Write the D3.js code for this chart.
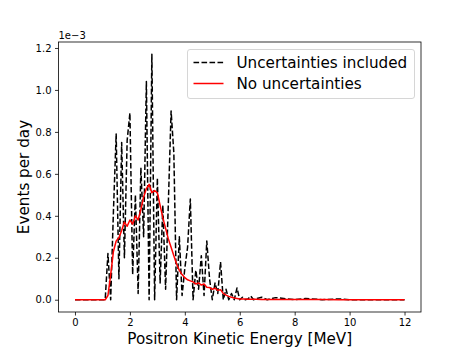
<!DOCTYPE html>
<html>
<head>
<meta charset="utf-8">
<script src="https://cdn.jsdelivr.net/npm/d3@7"></script>
<style>
  body { margin: 0; background: #fff; }
  svg { display: block; font-family: "DejaVu Sans", sans-serif; }
</style>
</head>
<body>
<div class="chart"></div>
<script>
// positron kinetic energy bins [MeV]
const energies = [0,
  1.1, 1.2, 1.3, 1.4, 1.5, 1.6, 1.7, 1.8, 1.9, 2.0,
  2.1, 2.2, 2.3, 2.4, 2.5, 2.6, 2.7, 2.8, 2.9, 3.0,
  3.1, 3.2, 3.3, 3.4, 3.5, 3.6, 3.7, 3.8, 3.9, 4.0,
  4.1, 4.2, 4.3, 4.4, 4.5, 4.6, 4.7, 4.8, 4.9, 5.0,
  5.1, 5.2, 5.3, 5.4, 5.5, 5.6, 5.7, 5.8, 5.9, 6.0,
  6.1, 6.2, 6.3, 6.4, 6.5, 6.6,
  6.8, 7.0, 7.3, 7.6, 8.0, 8.4, 9.0, 9.6, 10.0, 11.0, 12.0];

// events per day, in units of 1e-3
const withUncert = [0,
  0, 0.22, 0.00, 0.42, 0.79, 0.10, 0.75, 0.20, 0.76, 0.89,
  0.12, 0.50, 0.03, 0.63, 0.30, 1.04, 0.00, 1.17, 0.00, 0.58,
  0.08, 0.45, 0.05, 0.46, 0.90, 0.70, 0.00, 0.30, 0.02, 0.15,
  0.25, 0.48, 0.00, 0.14, 0.05, 0.21, 0.02, 0.28, 0.10, 0.00,
  0.08, 0.03, 0.18, 0.00, 0.05, 0.00, 0.03, 0.00, 0.056, 0.00,
  0.012, 0.00, 0.004, 0.018, 0.00, 0.005,
  0.012, 0.0, 0.01, 0.006, 0, 0.006, 0, 0.004, 0, 0, 0];

const noUncert = [0,
  0, 0.02, 0.12, 0.23, 0.28, 0.295, 0.33, 0.37, 0.35, 0.38,
  0.36, 0.40, 0.38, 0.43, 0.49, 0.53, 0.55, 0.51, 0.52, 0.51,
  0.45, 0.39, 0.34, 0.29, 0.25, 0.21, 0.17, 0.14, 0.12, 0.105,
  0.095, 0.09, 0.085, 0.075, 0.08, 0.07, 0.075, 0.06, 0.058, 0.05,
  0.055, 0.045, 0.048, 0.03, 0.022, 0.016, 0.012, 0.008, 0.006, 0.004,
  0.003, 0.003, 0.002, 0.002, 0.002, 0.002,
  0.0015, 0.0015, 0.001, 0.001, 0.001, 0.0008, 0.0005, 0.0004, 0.0003, 0.0002, 0];

const xTicks = [0, 2, 4, 6, 8, 10, 12];
const yTicks = [0, 0.2, 0.4, 0.6, 0.8, 1.0, 1.2];
const seriesNames = ["Uncertainties included", "No uncertainties"];

if (withUncert.length !== energies.length || noUncert.length !== energies.length) {
  throw new Error("length mismatch " + energies.length + " " + withUncert.length + " " + noUncert.length);
}

const width = 469, height = 351;
const plotLeft = 58.5, plotRight = 421, plotTop = 42, plotBottom = 312;

const svg = d3.select('.chart')
  .append('svg')
  .attr('width', width)
  .attr('height', height);

const xScale = d3.scaleLinear().domain([-0.6, 12.6]).range([plotLeft, plotRight]);
const yScale = d3.scaleLinear().domain([-0.0585, 1.2285]).range([plotBottom, plotTop]);

// axes
const xAxis = d3.axisBottom(xScale).tickValues(xTicks).tickSize(3.5).tickPadding(3.5)
  .tickFormat(d3.format("d"));
const yAxis = d3.axisLeft(yScale).tickValues(yTicks).tickSize(3.5).tickPadding(3.5)
  .tickFormat(d3.format(".1f"));

const gx = svg.append('g')
  .attr('transform', 'translate(0,' + plotBottom + ')')
  .call(xAxis);
const gy = svg.append('g')
  .attr('transform', 'translate(' + plotLeft + ',0)')
  .call(yAxis);

[gx, gy].forEach(g => {
  g.select('.domain').remove();
  g.selectAll('.tick line').attr('stroke', '#000').attr('stroke-width', 0.8);
  g.selectAll('.tick text').attr('fill', '#000').style('font-size', '10px')
    .style('font-family', '"DejaVu Sans", sans-serif');
});

// lines
const line = d3.line()
  .x((d, i) => xScale(energies[i]))
  .y(d => yScale(d));

svg.append('path')
  .attr('fill', 'none')
  .attr('stroke', '#000')
  .attr('stroke-width', 1.5)
  .attr('stroke-dasharray', '5.6,2.4')
  .attr('stroke-linejoin', 'round')
  .attr('d', line(withUncert));

svg.append('path')
  .attr('fill', 'none')
  .attr('stroke', '#ff0000')
  .attr('stroke-width', 1.5)
  .attr('stroke-linejoin', 'round')
  .attr('d', line(noUncert));

// frame
svg.append('rect')
  .attr('x', plotLeft).attr('y', plotTop)
  .attr('width', plotRight - plotLeft).attr('height', plotBottom - plotTop)
  .attr('fill', 'none')
  .attr('stroke', '#000')
  .attr('stroke-width', 0.8);

// offset text
svg.append('text')
  .attr('x', plotLeft).attr('y', 38.5)
  .style('font-size', '10px')
  .text('1e\u22123');

// axis labels
svg.append('text')
  .attr('x', (plotLeft + plotRight) / 2).attr('y', 344)
  .attr('text-anchor', 'middle')
  .style('font-size', '15.2px')
  .text('Positron Kinetic Energy [MeV]');

svg.append('text')
  .attr('transform', 'translate(28.5,' + ((plotTop + plotBottom) / 2) + ') rotate(-90)')
  .attr('text-anchor', 'middle')
  .style('font-size', '15.2px')
  .text('Events per day');

// legend
const legend = svg.append('g');
legend.append('rect')
  .attr('x', 187.5).attr('y', 49.5)
  .attr('width', 227).attr('height', 49)
  .attr('rx', 2.5)
  .attr('fill', '#fff').attr('fill-opacity', 0.8)
  .attr('stroke', '#ccc').attr('stroke-width', 0.8);

seriesNames.forEach((name, i) => {
  const y = 62.5 + i * 21;
  legend.append('line')
    .attr('x1', 193.5).attr('x2', 223.5)
    .attr('y1', y).attr('y2', y)
    .attr('stroke', i === 0 ? '#000' : '#ff0000')
    .attr('stroke-width', 1.5)
    .attr('stroke-dasharray', i === 0 ? '5.6,2.4' : null);
  legend.append('text')
    .attr('x', 236.5).attr('y', y + 5.5)
    .style('font-size', '15.2px')
    .text(name);
});
</script>
</body>
</html>
